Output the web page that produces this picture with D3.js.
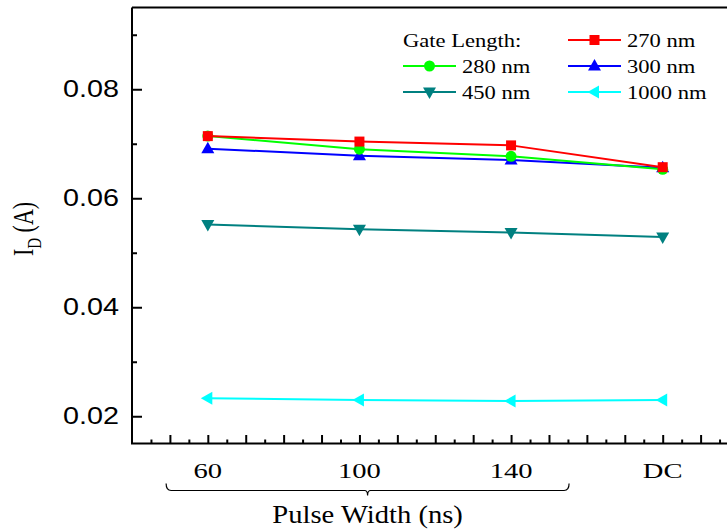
<!DOCTYPE html>
<html><head><meta charset="utf-8">
<script src="https://cdn.jsdelivr.net/npm/d3@7"></script>
<style>body{margin:0;background:#fff;overflow:hidden}svg{display:block}</style>
</head><body>
<svg id="chart" width="727" height="529"></svg>
<script>
const categories = ["60", "100", "140", "DC"];
const xPositions = [60, 100, 140, 180];
const s270 = [0.0714, 0.0704, 0.0697, 0.0657];
const s280 = [0.0714, 0.0690, 0.0677, 0.0653];
const s300 = [0.0691, 0.0678, 0.0670, 0.0656];
const s450 = [0.0552, 0.0543, 0.0537, 0.0529];
const s1000 = [0.0233, 0.0230, 0.0228, 0.0230];
const seriesNames = ["270 nm", "280 nm", "300 nm", "450 nm", "1000 nm"];
const seriesColors = ["#FF0000", "#00FF00", "#0000FF", "#008080", "#00FFFF"];
const seriesMarkers = ["square", "circle", "triangleUp", "triangleDown", "triangleLeft"];
const yTickValues = [0.02, 0.04, 0.06, 0.08];

const series = [s270, s280, s300, s450, s1000].map((v, i) => ({
  name: seriesNames[i], color: seriesColors[i], marker: seriesMarkers[i],
  points: v.map((y, j) => ({x: xPositions[j], y}))
}));

const svg = d3.select("#chart");
const L = 132, R = 132 + 160 * 3.7907, T = 7.5, B = 443.5;
const x = d3.scaleLinear().domain([40, 200]).range([L, R]);
const y = d3.scaleLinear().domain([0.015, 0.095]).range([B, T]);

function markerPath(type, cx, cy) {
  const p = d3.path();
  if (type === "square") { p.rect(cx - 5, cy - 5, 10, 10); }
  else if (type === "circle") { p.arc(cx, cy, 5.5, 0, 2 * Math.PI); }
  else if (type === "triangleUp") { p.moveTo(cx, cy - 7); p.lineTo(cx + 6.5, cy + 4.5); p.lineTo(cx - 6.5, cy + 4.5); p.closePath(); }
  else if (type === "triangleDown") { p.moveTo(cx, cy + 7); p.lineTo(cx + 6.5, cy - 4.5); p.lineTo(cx - 6.5, cy - 4.5); p.closePath(); }
  else if (type === "triangleLeft") { p.moveTo(cx - 7, cy); p.lineTo(cx + 4.5, cy - 6.5); p.lineTo(cx + 4.5, cy + 6.5); p.closePath(); }
  return p.toString();
}

// series lines and markers
const line = d3.line().x(d => x(d.x)).y(d => y(d.y));
const g = svg.append("g");
series.slice().reverse().forEach(s => {
  g.append("path").attr("d", line(s.points)).attr("fill", "none")
    .attr("stroke", s.color).attr("stroke-width", 2);
  g.selectAll(null).data(s.points).enter().append("path")
    .attr("d", d => markerPath(s.marker, x(d.x), y(d.y))).attr("fill", s.color);
});

// axes
const axisG = svg.append("g");
const xMinor = d3.range(45, 200, 5);
const bottomAxis = d3.axisTop(x).tickValues(xMinor).tickFormat("").tickSizeOuter(0)
  .tickSizeInner(0);
axisG.append("g").attr("transform", `translate(0,${B})`).call(bottomAxis)
  .call(a => a.select(".domain").remove())
  .selectAll(".tick line").attr("y2", d => d % 10 === 0 ? -8.5 : -4)
  .attr("stroke", "#000").attr("stroke-width", 2);
const yMinor = d3.range(0.02, 0.0951, 0.01);
const leftAxis = d3.axisRight(y).tickValues(yMinor).tickFormat("").tickSizeOuter(0).tickSizeInner(0);
axisG.append("g").attr("transform", `translate(${L},0)`).call(leftAxis)
  .call(a => a.select(".domain").remove())
  .selectAll(".tick line").attr("x2", (d, i) => i % 2 === 0 ? 10 : 5)
  .attr("stroke", "#000").attr("stroke-width", 2);
axisG.append("path").attr("d", `M${L},${T}H${R}M${L},${T}V${B}M${L - 1},${B}H${R}`)
  .attr("stroke", "#000").attr("stroke-width", 2).attr("fill", "none");

// y tick labels
svg.append("g").selectAll("text").data(yTickValues).enter().append("text")
  .attr("transform", d => `translate(119,${y(d) + 8}) scale(1.25,1)`)
  .attr("text-anchor", "end").attr("font-family", "Liberation Sans, Arial, sans-serif")
  .attr("font-size", 23).text(d => d3.format(".2f")(d));

// x tick labels
svg.append("g").selectAll("text").data(categories).enter().append("text")
  .attr("transform", (d, i) => `translate(${x(xPositions[i])},478) scale(1.3,1)`)
  .attr("text-anchor", "middle").attr("font-family", "Liberation Serif, Times New Roman, serif")
  .attr("font-size", 22).text(d => d);

// brace
const b0 = x(49), b1 = x(155.3), bm = (b0 + b1) / 2, by = 490.5;
svg.append("path")
  .attr("d", `M${b0},${by - 7}Q${b0},${by} ${b0 + 5},${by}H${bm - 3}Q${bm},${by} ${bm},${by + 5}Q${bm},${by} ${bm + 3},${by}H${b1 - 5}Q${b1},${by} ${b1},${by - 7}`)
  .attr("fill", "none").attr("stroke", "#000").attr("stroke-width", 1.2);

svg.append("text").attr("transform", `translate(${bm},523) scale(1.1,1)`)
  .attr("text-anchor", "middle").attr("font-family", "Liberation Serif, Times New Roman, serif")
  .attr("font-size", 26).text("Pulse Width (ns)");

// y title
const yt = svg.append("text").attr("transform", "translate(33,229) scale(1.3,1) rotate(-90)")
  .attr("text-anchor", "middle").attr("font-family", "Liberation Serif, Times New Roman, serif")
  .attr("font-size", 22);
yt.append("tspan").text("I");
yt.append("tspan").attr("font-size", 15).attr("dy", 6).text("D");
yt.append("tspan").attr("dy", -6).text(" (A)");

// legend
const leg = svg.append("g");
const legFont = "Liberation Serif, Times New Roman, serif";
leg.append("text").attr("transform", "translate(403,47) scale(1.22,1)")
  .attr("font-family", legFont).attr("font-size", 18.5).text("Gate Length:");
const legPos = [[568, 40], [403, 66], [568, 66], [403, 92], [568, 92]];
series.forEach((s, i) => {
  const [lx, ly] = legPos[i];
  leg.append("line").attr("x1", lx).attr("x2", lx + 53).attr("y1", ly).attr("y2", ly)
    .attr("stroke", s.color).attr("stroke-width", 2);
  leg.append("path").attr("d", markerPath(s.marker, lx + 26.5, ly)).attr("fill", s.color);
  leg.append("text").attr("transform", `translate(${lx + 59},${ly + 7}) scale(1.22,1)`)
    .attr("font-family", legFont).attr("font-size", 18.5).text(s.name);
});
</script>
</body></html>
